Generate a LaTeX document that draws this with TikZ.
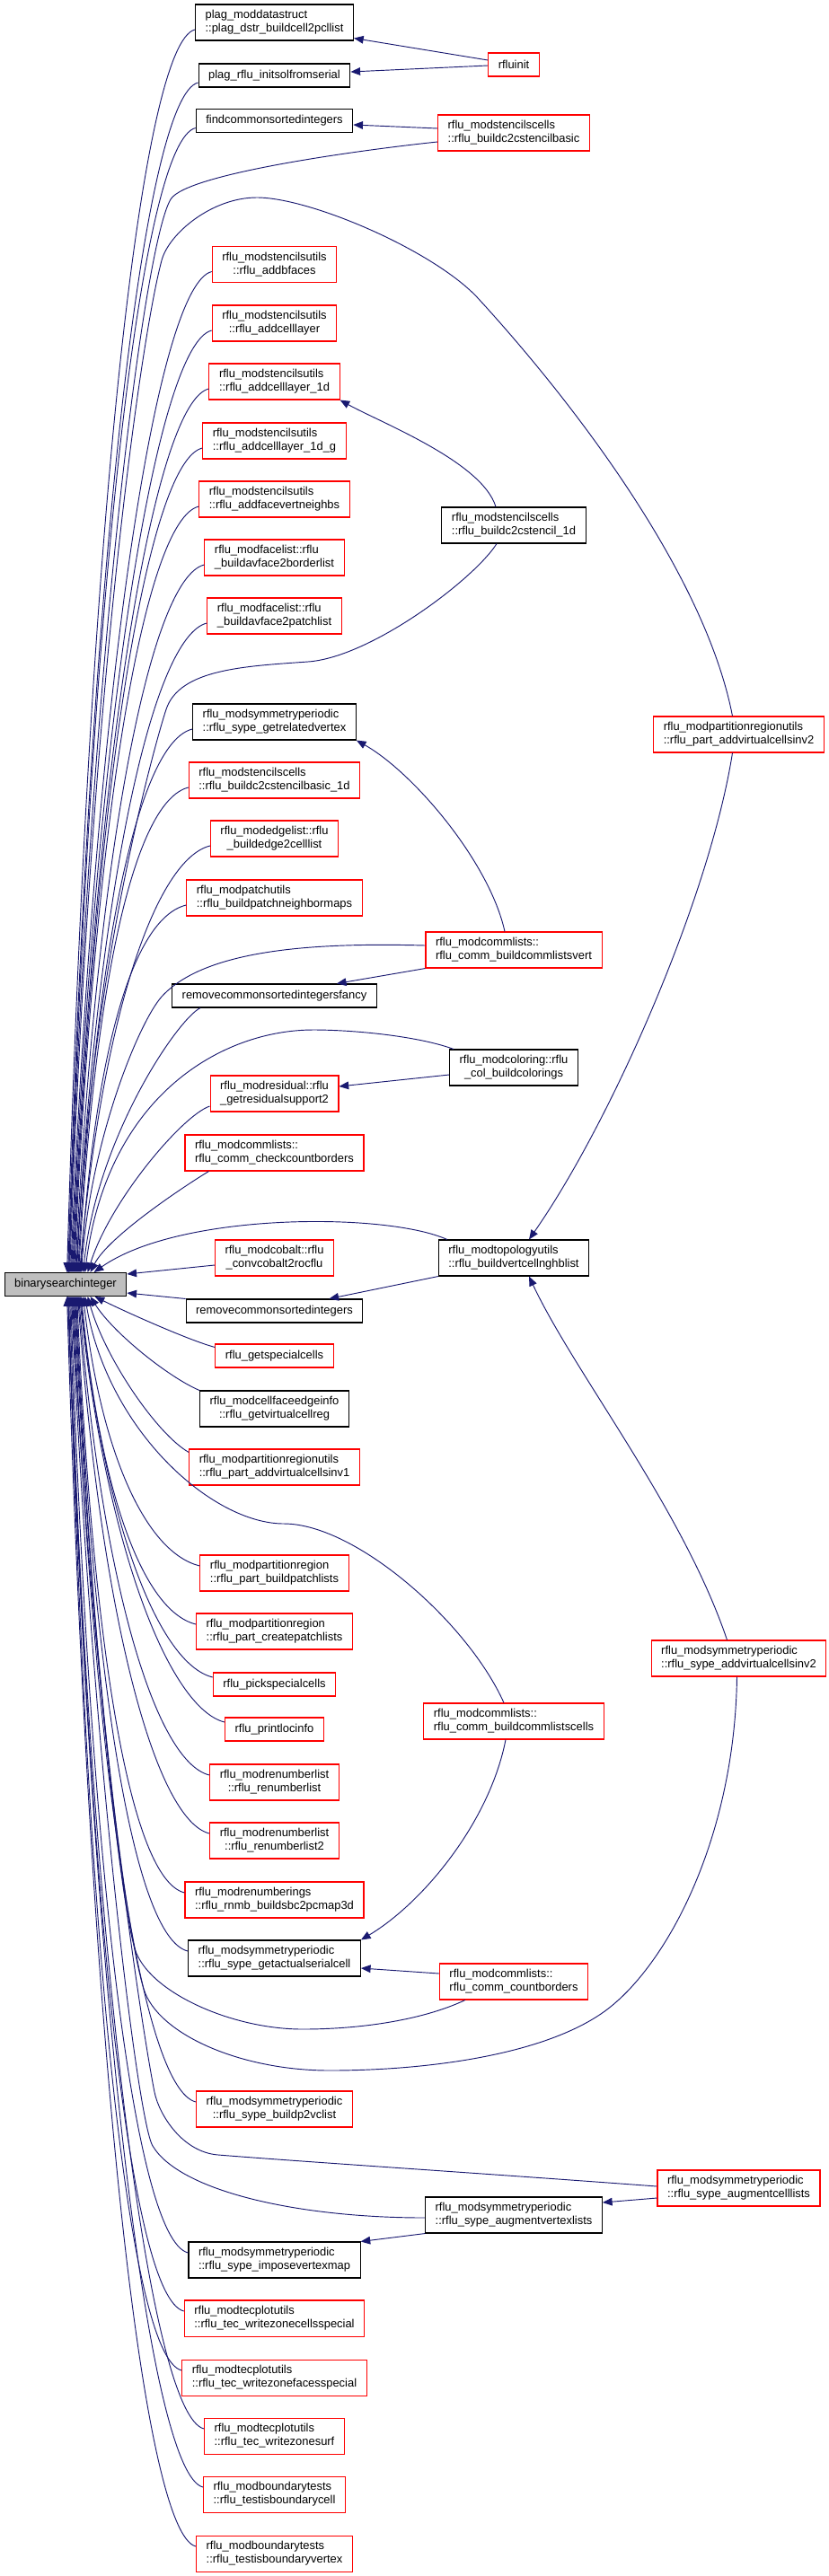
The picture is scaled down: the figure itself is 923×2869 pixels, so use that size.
\documentclass[tikz,border=0pt]{standalone}
\usepackage{fontspec}
\setmainfont{Liberation Sans}
\usepackage{tikz}
\usetikzlibrary{arrows.meta, calc}
\definecolor{edgeblue}{HTML}{191970}
\definecolor{nodered}{HTML}{FF0000}
\definecolor{rootgrey}{HTML}{BFBFBF}
\newcommand{\twoln}[2]{\begin{tabular}{@{}l@{}}#1\\\multicolumn{1}{@{}c@{}}{#2}\end{tabular}}
\tikzset{
  func/.style  = {rectangle, draw=black, fill=white, line width=0.8pt,
                  inner xsep=8.3pt, inner ysep=3.75pt, minimum height=19.5pt,
                  font=\fontsize{9.7}{11.25}\selectfont},
  undoc/.style = {func, draw=nodered},
  root/.style  = {func, fill=rootgrey},
  arr/.style   = {-{Triangle[length=8pt,width=6.5pt]}, draw=edgeblue, line width=0.7pt},
}
\begin{document}
\begin{tikzpicture}[x=0.75pt, y=-0.75pt]
  \useasboundingbox (0,0) rectangle (923,2869);

  \node[root]  (bsi)   at (73,1430.5)  {binarysearchinteger};

  \node[func]  (pd)    at (305.5,25)   {\twoln{plag\_moddatastruct}{::plag\_dstr\_buildcell2pcllist}};
  \node[func]  (is)    at (305.5,84)   {plag\_rflu\_initsolfromserial};
  \node[func]  (fcs)   at (305.5,134.5) {findcommonsortedintegers};
  \node[undoc] (abf)   at (305.5,294.5) {\twoln{rflu\_modstencilsutils}{::rflu\_addbfaces}};
  \node[undoc] (acly)  at (305.5,360)  {\twoln{rflu\_modstencilsutils}{::rflu\_addcelllayer}};
  \node[undoc] (acl1)  at (305.5,425)  {\twoln{rflu\_modstencilsutils}{::rflu\_addcelllayer\_1d}};
  \node[undoc] (acl1g) at (305.5,491)  {\twoln{rflu\_modstencilsutils}{::rflu\_addcelllayer\_1d\_g}};
  \node[undoc] (afvn)  at (305.5,556)  {\twoln{rflu\_modstencilsutils}{::rflu\_addfacevertneighbs}};
  \node[undoc] (abl)   at (305.5,621)  {\twoln{rflu\_modfacelist::rflu}{\_buildavface2borderlist}};
  \node[undoc] (apl)   at (305.5,686)  {\twoln{rflu\_modfacelist::rflu}{\_buildavface2patchlist}};
  \node[func]  (grv)   at (305.5,804)  {\twoln{rflu\_modsymmetryperiodic}{::rflu\_sype\_getrelatedvertex}};
  \node[undoc] (cb1d)  at (305.5,869)  {\twoln{rflu\_modstencilscells}{::rflu\_buildc2cstencilbasic\_1d}};
  \node[undoc] (e2c)   at (305.5,934)  {\twoln{rflu\_modedgelist::rflu}{\_buildedge2celllist}};
  \node[undoc] (pnm)   at (305.5,1000) {\twoln{rflu\_modpatchutils}{::rflu\_buildpatchneighbormaps}};
  \node[func]  (rcsf)  at (305.5,1109) {removecommonsortedintegersfancy};
  \node[undoc] (grs)   at (305.5,1218) {\twoln{rflu\_modresidual::rflu}{\_getresidualsupport2}};
  \node[undoc] (ccb)   at (305.5,1284) {\twoln{rflu\_modcommlists::}{rflu\_comm\_checkcountborders}};
  \node[undoc] (cc2r)  at (305.5,1401) {\twoln{rflu\_modcobalt::rflu}{\_convcobalt2rocflu}};
  \node[func]  (rcs)   at (305.5,1460) {removecommonsortedintegers};
  \node[undoc] (gsc)   at (305.5,1510) {rflu\_getspecialcells};
  \node[func]  (gvc)   at (305.5,1569) {\twoln{rflu\_modcellfaceedgeinfo}{::rflu\_getvirtualcellreg}};
  \node[undoc] (av1)   at (305.5,1634) {\twoln{rflu\_modpartitionregionutils}{::rflu\_part\_addvirtualcellsinv1}};
  \node[undoc] (bpl)   at (305.5,1752) {\twoln{rflu\_modpartitionregion}{::rflu\_part\_buildpatchlists}};
  \node[undoc] (cpl)   at (305.5,1817) {\twoln{rflu\_modpartitionregion}{::rflu\_part\_createpatchlists}};
  \node[undoc] (psc)   at (305.5,1876) {rflu\_pickspecialcells};
  \node[undoc] (pli)   at (305.5,1926) {rflu\_printlocinfo};
  \node[undoc] (rnl)   at (305.5,1985) {\twoln{rflu\_modrenumberlist}{::rflu\_renumberlist}};
  \node[undoc] (rnl2)  at (305.5,2050) {\twoln{rflu\_modrenumberlist}{::rflu\_renumberlist2}};
  \node[undoc] (sbc)   at (305.5,2116) {\twoln{rflu\_modrenumberings}{::rflu\_rnmb\_buildsbc2pcmap3d}};
  \node[func]  (gasc)  at (305.5,2181) {\twoln{rflu\_modsymmetryperiodic}{::rflu\_sype\_getactualserialcell}};
  \node[undoc] (p2v)   at (305.5,2349) {\twoln{rflu\_modsymmetryperiodic}{::rflu\_sype\_buildp2vclist}};
  \node[func]  (ivm)   at (305.5,2517) {\twoln{rflu\_modsymmetryperiodic}{::rflu\_sype\_imposevertexmap}};
  \node[undoc] (wzc)   at (305.5,2582) {\twoln{rflu\_modtecplotutils}{::rflu\_tec\_writezonecellsspecial}};
  \node[undoc] (wzf)   at (305.5,2648) {\twoln{rflu\_modtecplotutils}{::rflu\_tec\_writezonefacesspecial}};
  \node[undoc] (wzs)   at (305.5,2713) {\twoln{rflu\_modtecplotutils}{::rflu\_tec\_writezonesurf}};
  \node[undoc] (tbc)   at (305.5,2778) {\twoln{rflu\_modboundarytests}{::rflu\_testisboundarycell}};
  \node[undoc] (tbv)   at (305.5,2844) {\twoln{rflu\_modboundarytests}{::rflu\_testisboundaryvertex}};

  \node[undoc] (ri)    at (572,72)     {rfluinit};
  \node[undoc] (c2cb)  at (572,148)    {\twoln{rflu\_modstencilscells}{::rflu\_buildc2cstencilbasic}};
  \node[func]  (c2c1d) at (572,585)    {\twoln{rflu\_modstencilscells}{::rflu\_buildc2cstencil\_1d}};
  \node[undoc] (cv)    at (572,1058)   {\twoln{rflu\_modcommlists::}{rflu\_comm\_buildcommlistsvert}};
  \node[func]  (bc)    at (572,1189)   {\twoln{rflu\_modcoloring::rflu}{\_col\_buildcolorings}};
  \node[func]  (bv)    at (572,1401)   {\twoln{rflu\_modtopologyutils}{::rflu\_buildvertcellnghblist}};
  \node[undoc] (bcl)   at (572,1917)   {\twoln{rflu\_modcommlists::}{rflu\_comm\_buildcommlistscells}};
  \node[undoc] (cb)    at (572,2207)   {\twoln{rflu\_modcommlists::}{rflu\_comm\_countborders}};
  \node[func]  (avl)   at (572,2467)   {\twoln{rflu\_modsymmetryperiodic}{::rflu\_sype\_augmentvertexlists}};

  \node[undoc] (av2)   at (822.5,818)  {\twoln{rflu\_modpartitionregionutils}{::rflu\_part\_addvirtualcellsinv2}};
  \node[undoc] (sav2)  at (822.5,1847) {\twoln{rflu\_modsymmetryperiodic}{::rflu\_sype\_addvirtualcellsinv2}};
  \node[undoc] (acll)  at (822.5,2437) {\twoln{rflu\_modsymmetryperiodic}{::rflu\_sype\_augmentcelllists}};

  \foreach \n/\ho/\dx/\k in {pd/70/24/830, is/71/25/795, fcs/72/24/765, abf/74/29/670, acly/75/28/630,
      acl1/76/27/590, acl1g/77/25/550, afvn/78/23/512, abl/79/25/473, apl/80/25/434, grv/82/20/364,
      cb1d/83/18/325, e2c/84/25/286, pnm/85/17/246}
    \draw[arr] ($(\n.west)+(0,8)$) .. controls +(-60,15) and +(\dx,-\k) .. ($(bsi.north west)+(\ho,0)$);
  \foreach \n/\ho/\dx/\k in {bpl/88/20/175, cpl/86/20/214, psc/85/26/253, pli/84/30/285, rnl/83/26/320,
      rnl2/82/26/359, sbc/81/18/397, gasc/80/19/432, p2v/77/23/533, ivm/74/21/634, wzc/73/20/674,
      wzf/72/19/713, wzs/71/27/752, tbc/71/27/791, tbv/70/25/830}
    \draw[arr] ($(\n.west)+(0,-8)$) .. controls +(-60,-15) and +(\dx,\k) .. ($(bsi.south west)+(\ho,0)$);

  \draw[arr] ($(rcsf.south west)+(32,0)$) .. controls +(-25,12) and +(15,-150) .. ($(bsi.north west)+(88,0)$);
  \draw[arr] ($(grs.west)+(0,14)$) .. controls +(-30,10) and +(25,-80) .. ($(bsi.north west)+(93,0)$);
  \draw[arr] ($(ccb.south west)+(27,0)$) .. controls +(-25,15) and +(20,-40) .. ($(bsi.north west)+(96,0)$);
  \draw[arr] ($(cc2r.west)+(0,8)$) -- ($(bsi.north east)+(0,2)$);
  \draw[arr] (rcs.north west) -- ($(bsi.south east)+(0,-4)$);
  \draw[arr] ($(gsc.north west)+(0,4)$) .. controls +(-30,-8) and +(30,15) .. ($(bsi.south west)+(101,0)$);
  \draw[arr] (gvc.north west) .. controls +(-35,-15) and +(25,40) .. ($(bsi.south west)+(96,0)$);
  \draw[arr] ($(av1.north west)+(0,4)$) .. controls +(-35,-20) and +(20,70) .. ($(bsi.south west)+(93,0)$);

  \draw[arr] ($(ri.west)+(0,-5)$) -- ($(pd.south east)+(0,-3)$);
  \draw[arr] ($(ri.west)+(0,1)$) -- ($(is.east)+(0,-4)$);
  \draw[arr] ($(c2cb.west)+(0,-5)$) -- ($(fcs.east)+(0,4.5)$);
  \draw[arr] ($(c2cb.west)+(0,10)$) .. controls (420,165) and (208,192) .. (190,222)
    .. controls (160,272) and (100,740) .. ($(bsi.north west)+(72,0)$);
  \draw[arr] ($(av2.north)+(-7,0)$) .. controls (785,640) and (640,450) .. (533,333)
    .. controls (485,280) and (346,220) .. (286,220) .. controls (236,220) and (188,260) .. (180,290)
    .. controls (156,380) and (100,780) .. ($(bsi.north west)+(73,0)$);
  \draw[arr] ($(av2.south)+(-7,0)$) .. controls (790,1000) and (680,1250) .. ($(bv.north)+(17,0)$);
  \draw[arr] ($(c2c1d.north)+(-20,0)$) .. controls +(-15,-50) and +(45,25) .. (acl1.south east);
  \draw[arr] ($(c2c1d.south)+(-19,0)$) .. controls (528,645) and (413,732) .. (343,737)
    .. controls (273,742) and (200,745) .. (185,790) .. controls (175,820) and (100,1080) .. ($(bsi.north west)+(81,0)$);
  \draw[arr] ($(cv.north)+(-10,0)$) .. controls (545,960) and (460,860) .. (grv.south east);
  \draw[arr] (cv.south west) -- ($(rcsf.north east)+(-45,0)$);
  \draw[arr] ($(cv.west)+(0,-5)$) .. controls (360,1050) and (230,1055) .. (180,1110)
    .. controls (155,1138) and (101,1268) .. ($(bsi.north west)+(86,0)$);
  \draw[arr] ($(bc.west)+(0,8)$) -- ($(grs.east)+(0,-8)$);
  \draw[arr] ($(bc.north west)+(5,0)$) .. controls (466,1154) and (394,1147) .. (349,1147)
    .. controls (249,1147) and (120,1218) .. ($(bsi.north west)+(90,0)$);
  \draw[arr] (bv.south west) -- ($(rcs.north east)+(-38,0)$);
  \draw[arr] ($(bv.north west)+(10,0)$) .. controls (430,1350) and (200,1350) .. ($(bsi.north west)+(100,0)$);
  \draw[arr] ($(sav2.north)+(-13,0)$) .. controls (760,1680) and (640,1530) .. ($(bv.south)+(17,0)$);
  \draw[arr] ($(sav2.south)+(-2,0)$) .. controls (818,2050) and (740,2195) .. (669,2243)
    .. controls (598,2291) and (467,2306) .. (367,2306) .. controls (267,2306) and (175,2265) .. (160,2215)
    .. controls (137,2140) and (100,1820) .. ($(bsi.south west)+(78,0)$);
  \draw[arr] ($(bcl.south)+(-9,0)$) .. controls (545,2030) and (470,2120) .. (gasc.north east);
  \draw[arr] ($(bcl.north)+(-11,0)$) .. controls (521,1807) and (396,1697) .. (316,1697)
    .. controls (236,1697) and (120,1593) .. ($(bsi.south west)+(90,0)$);
  \draw[arr] ($(cb.west)+(0,-9)$) -- ($(gasc.east)+(0,11)$);
  \draw[arr] ($(cb.south west)+(29,0)$) .. controls (468,2251) and (397,2260) .. (337,2260)
    .. controls (257,2260) and (164,2218) .. (150,2170) .. controls (132,2110) and (100,1800) .. ($(bsi.south west)+(79,0)$);
  \draw[arr] ($(acll.west)+(0,11)$) -- ($(avl.east)+(0,-14)$);
  \draw[arr] ($(acll.west)+(0,-2)$) .. controls (530,2420) and (343,2408) .. (243,2400)
    .. controls (203,2397) and (177,2355) .. (172,2330) .. controls (157,2255) and (100,1880) .. ($(bsi.south west)+(76,0)$);
  \draw[arr] (avl.south west) -- (ivm.north east);
  \draw[arr] ($(avl.west)+(0,3)$) .. controls (330,2470) and (200,2440) .. (170,2390)
    .. controls (152,2360) and (100,1920) .. ($(bsi.south west)+(75,0)$);

\end{tikzpicture}
\end{document}
